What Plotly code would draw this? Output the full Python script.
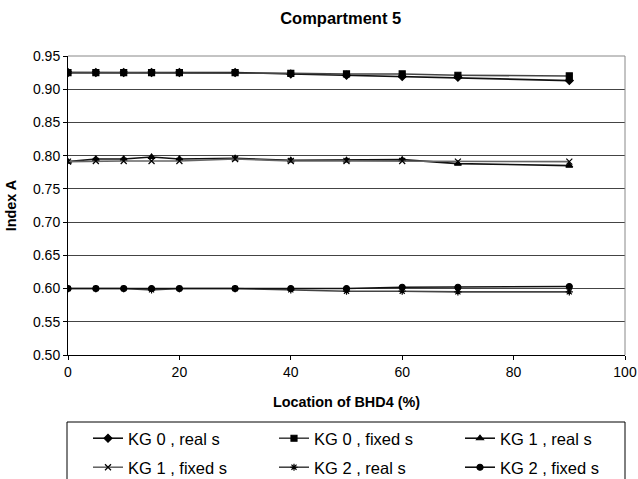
import plotly.graph_objects as go

x_loc = [0, 5, 10, 15, 20, 30, 40, 50, 60, 70, 90]
kg0_real = [0.925, 0.925, 0.925, 0.925, 0.925, 0.925, 0.923, 0.921, 0.919, 0.918, 0.913]
kg0_fixed = [0.925, 0.925, 0.925, 0.925, 0.925, 0.925, 0.924, 0.923, 0.923, 0.921, 0.920]
kg1_real = [0.791, 0.795, 0.795, 0.798, 0.795, 0.796, 0.793, 0.793, 0.794, 0.788, 0.785]
kg1_fixed = [0.791, 0.792, 0.792, 0.792, 0.792, 0.795, 0.792, 0.792, 0.792, 0.791, 0.791]
kg2_real = [0.600, 0.600, 0.600, 0.598, 0.600, 0.600, 0.598, 0.596, 0.596, 0.595, 0.595]
kg2_fixed = [0.600, 0.600, 0.600, 0.600, 0.600, 0.600, 0.600, 0.600, 0.602, 0.602, 0.603]

series = [
    ("KG 0 , real s", kg0_real, "diamond", "#111111", "legend"),
    ("KG 0 , fixed s", kg0_fixed, "square", "#444444", "legend"),
    ("KG 1 , real s", kg1_real, "triangle-up", "#111111", "legend"),
    ("KG 1 , fixed s", kg1_fixed, "x-thin-open", "#666666", "legend2"),
    ("KG 2 , real s", kg2_real, "asterisk-open", "#444444", "legend2"),
    ("KG 2 , fixed s", kg2_fixed, "circle", "#111111", "legend2"),
]

fig = go.Figure()
for name, vals, sym, col, leg in series:
    fig.add_trace(go.Scatter(
        x=x_loc, y=vals, name=name, mode="lines+markers", legend=leg,
        line=dict(color=col, width=1.6),
        marker=dict(symbol=sym, size=6, color="#000000",
                    line=dict(color="#000000", width=1.2)),
    ))

legend_common = dict(orientation="h", xref="container", yref="container",
                     xanchor="left", yanchor="top", borderwidth=0,
                     bgcolor="rgba(0,0,0,0)", entrywidth=141,
                     font=dict(size=16.5, color="#000000"), itemwidth=30)

fig.update_layout(
    width=638, height=479,
    margin=dict(l=68, r=13, t=56, b=124, autoexpand=False),
    paper_bgcolor="white", plot_bgcolor="white",
    font=dict(family="Liberation Sans, Arial, sans-serif", size=14, color="#000000"),
    title=dict(text="<b>Compartment 5</b>", xref="container", yref="container",
               x=0.534, xanchor="center", y=0.962, yanchor="middle",
               font=dict(size=16.5)),
    xaxis=dict(range=[0, 100], dtick=20, showgrid=False, zeroline=False,
               showline=True, linecolor="#000000", linewidth=1,
               ticks="outside", ticklen=4, tickcolor="#000000",
               ticklabeloverflow="allow", automargin=False,
               tickfont=dict(size=14),
               title=dict(text="<b>Location of BHD4 (%)</b>", font=dict(size=14.4), standoff=18)),
    yaxis=dict(range=[0.50, 0.95], dtick=0.05, tickformat=".2f",
               showgrid=True, gridcolor="#444444", gridwidth=1, zeroline=False,
               showline=True, linecolor="#000000", linewidth=1,
               ticks="outside", ticklen=4, tickcolor="#000000",
               automargin=False, tickfont=dict(size=14),
               title=dict(text="<b>Index A</b>", font=dict(size=14.4), standoff=12)),
    legend=dict(x=88 / 638, y=1 - 421 / 479, **legend_common),
    legend2=dict(x=88 / 638, y=1 - 450 / 479, **legend_common),
    showlegend=True,
)

# plot-area border on right/top
fig.add_shape(type="line", xref="paper", yref="paper", x0=1, x1=1, y0=0, y1=1,
              line=dict(color="#888888", width=1))
fig.add_shape(type="line", xref="paper", yref="paper", x0=0, x1=1, y0=1, y1=1,
              line=dict(color="#888888", width=1))
# legend frame
fig.add_shape(type="rect", xref="paper", yref="paper",
              x0=(67 - 68) / 557, x1=(625 - 68) / 557,
              y0=-0.6, y1=(355 - 422) / 299,
              line=dict(color="#000000", width=1), fillcolor="rgba(0,0,0,0)")

fig.write_html("out.html",
               config={"displayModeBar": False},
               post_script="document.body.style.margin='0';document.body.style.overflow='hidden';")
